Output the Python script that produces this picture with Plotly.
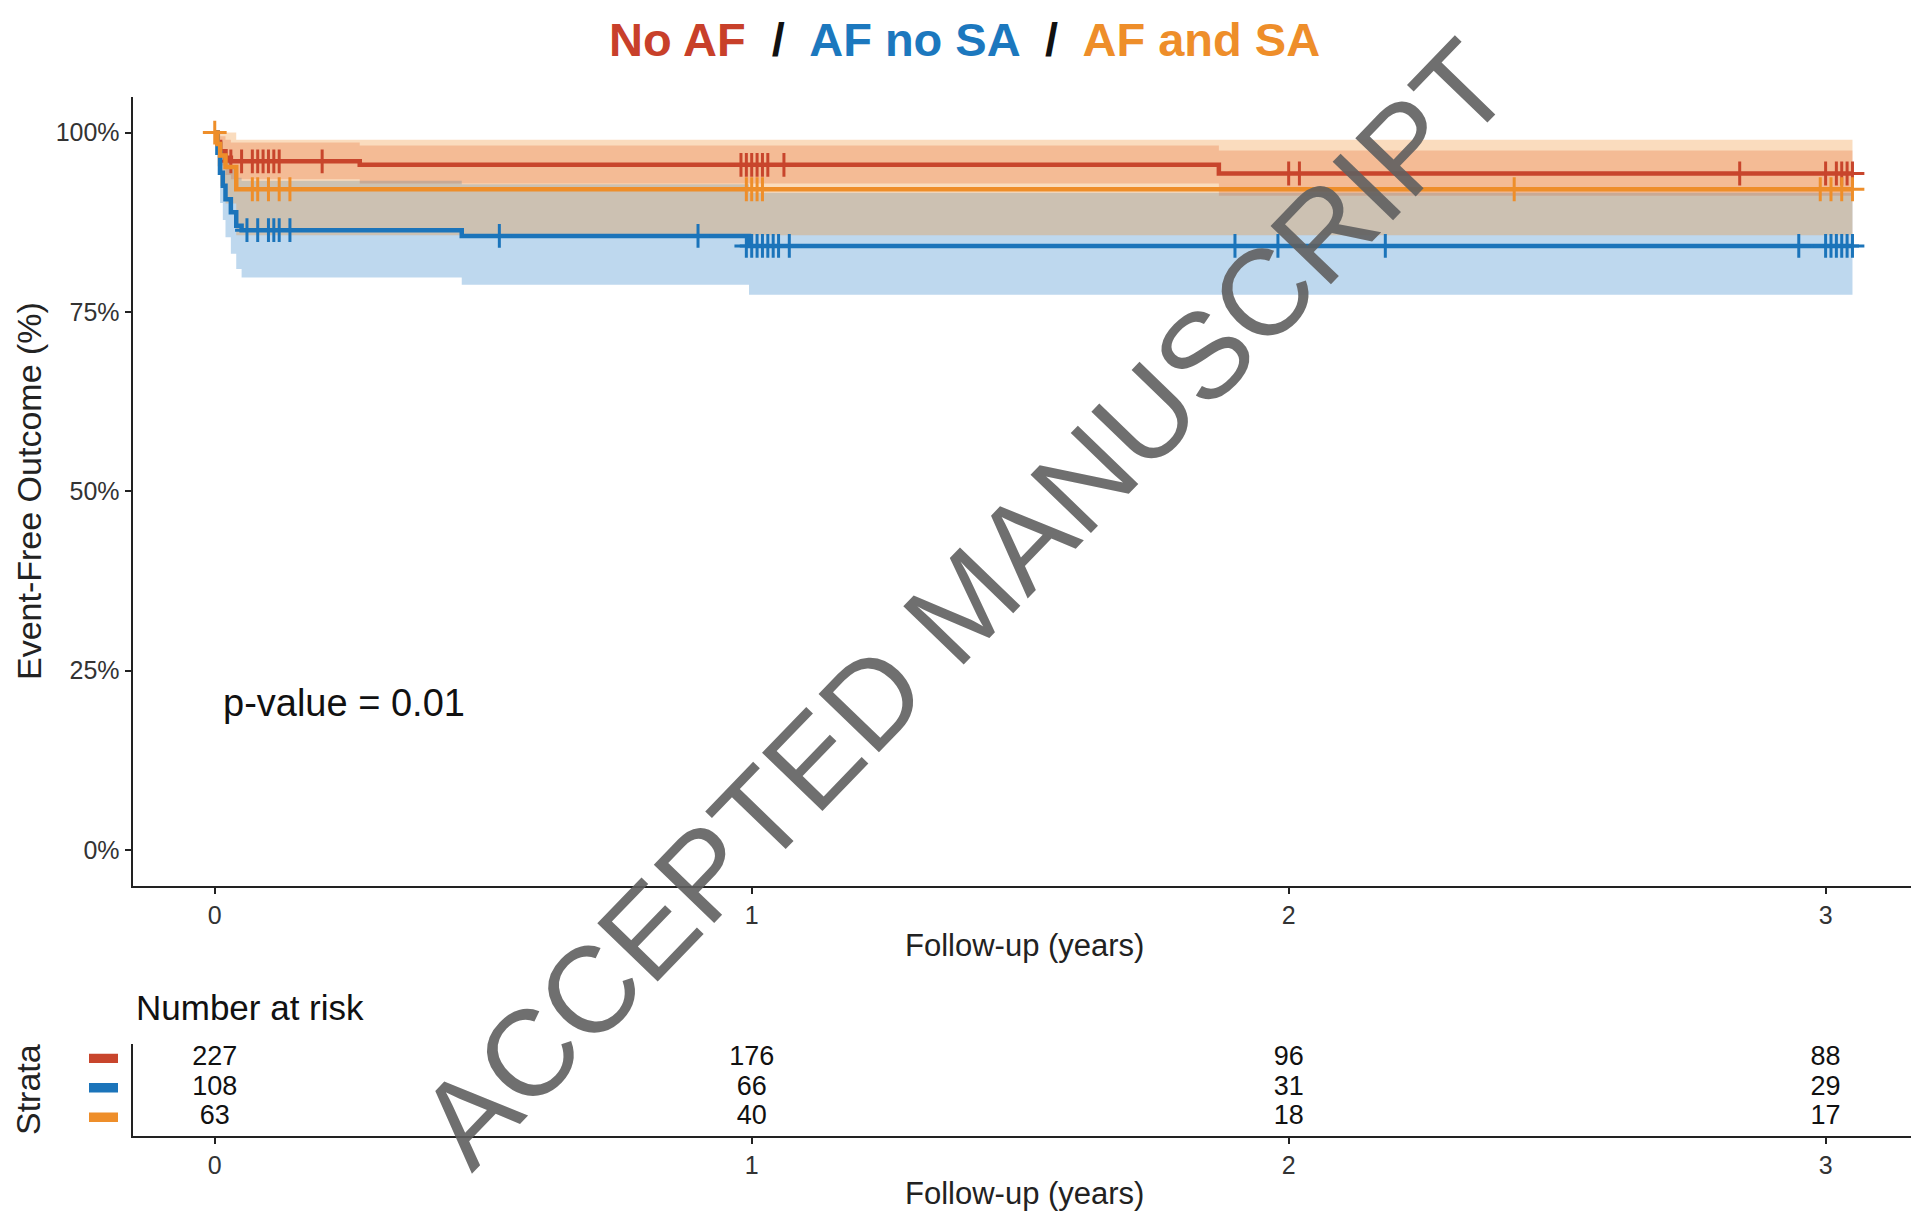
import plotly.graph_objects as go

# ---------------- data ----------------
groups = ["No AF", "AF no SA", "AF and SA"]
line_colors = ["#C8452C", "#1B74BA", "#EE8E2A"]
fill_colors = ["rgba(230,100,60,0.30)", "rgba(40,125,200,0.30)", "rgba(240,140,40,0.30)"]

# Kaplan-Meier step data (years, survival %)
noaf_t = [0, 0.005, 0.01, 0.02, 0.03, 0.27, 1.87, 3.05]
noaf_s = [100, 98.7, 97.4, 96.5, 96.0, 95.5, 94.3, 94.3]
noaf_lo = [100, 97.2, 95.4, 94.1, 93.5, 92.9, 91.2, 91.2]
noaf_hi = [100, 100, 99.5, 99.0, 98.6, 98.2, 97.5, 97.5]

afnosa_t = [0, 0.005, 0.01, 0.015, 0.02, 0.03, 0.04, 0.05, 0.46, 0.995, 3.05]
afnosa_s = [100, 97.2, 94.4, 92.6, 90.7, 88.9, 87.0, 86.4, 85.6, 84.2, 84.2]
afnosa_lo = [100, 94.1, 90.2, 87.8, 85.4, 83.1, 81.0, 79.8, 78.8, 77.4, 77.4]
afnosa_hi = [100, 100, 98.8, 97.7, 96.4, 95.1, 93.7, 93.3, 92.8, 91.6, 91.6]

afsa_t = [0, 0.005, 0.01, 0.02, 0.04, 3.05]
afsa_s = [100, 98.4, 96.8, 95.2, 92.1, 92.1]
afsa_lo = [100, 95.3, 92.6, 90.1, 85.7, 85.7]
afsa_hi = [100, 100, 100, 100, 99.0, 99.0]

# censoring marks (years, survival %)
noaf_cens_t = [0.03, 0.05, 0.07, 0.08, 0.09, 0.10, 0.11, 0.12, 0.20,
               0.98, 0.99, 1.00, 1.01, 1.02, 1.03, 1.06,
               2.00, 2.02, 2.84, 3.00, 3.02, 3.03, 3.04, 3.05]
noaf_cens_s = [96.0] * 9 + [95.5] * 7 + [94.3] * 8

afnosa_cens_t = [0.06, 0.08, 0.10, 0.11, 0.12, 0.14, 0.53, 0.90,
                 0.99, 1.00, 1.01, 1.02, 1.03, 1.04, 1.05, 1.07,
                 1.90, 1.98, 2.18, 2.95, 3.00, 3.01, 3.02, 3.03, 3.04, 3.05]
afnosa_cens_s = [86.4] * 6 + [85.6] * 2 + [84.2] * 18

afsa_cens_t = [0.0, 0.07, 0.08, 0.10, 0.12, 0.14,
               0.99, 1.00, 1.01, 1.02, 2.42, 2.99, 3.01, 3.03, 3.05]
afsa_cens_s = [100] + [92.1] * 14

# number at risk
risk_times = [0, 1, 2, 3]
risk_noaf = [227, 176, 96, 88]
risk_afnosa = [108, 66, 31, 29]
risk_afsa = [63, 40, 18, 17]

y_ticks = [0, 25, 50, 75, 100]
y_ticklabels = ["0%", "25%", "50%", "75%", "100%"]
x_ticks = [0, 1, 2, 3]

# ---------------- figure ----------------
W, H = 1925, 1225
OFF = 8  # page body margin
FONT = "Liberation Sans, Arial, sans-serif"

def px_x(p):
    return (p - OFF) / W

def px_y(p):
    return 1 - (p - OFF) / H

fig = go.Figure()

series = [
    (noaf_t, noaf_s, noaf_lo, noaf_hi, noaf_cens_t, noaf_cens_s),
    (afnosa_t, afnosa_s, afnosa_lo, afnosa_hi, afnosa_cens_t, afnosa_cens_s),
    (afsa_t, afsa_s, afsa_lo, afsa_hi, afsa_cens_t, afsa_cens_s),
]

# confidence bands
for i, (t, s, lo, hi, ct, cs) in enumerate(series):
    fig.add_trace(go.Scatter(x=t, y=hi, mode="lines", line=dict(width=0, shape="hv"),
                             showlegend=False, hoverinfo="skip", xaxis="x", yaxis="y"))
    fig.add_trace(go.Scatter(x=t, y=lo, mode="lines", line=dict(width=0, shape="hv"),
                             fill="tonexty", fillcolor=fill_colors[i],
                             showlegend=False, hoverinfo="skip", xaxis="x", yaxis="y"))

# survival curves and censor marks
for i, (t, s, lo, hi, ct, cs) in enumerate(series):
    fig.add_trace(go.Scatter(x=t, y=s, mode="lines", name=groups[i],
                             line=dict(color=line_colors[i], width=4.5, shape="hv"),
                             showlegend=False, xaxis="x", yaxis="y"))
    fig.add_trace(go.Scatter(x=ct, y=cs, mode="markers",
                             marker=dict(symbol="cross-thin", size=17,
                                         line=dict(color=line_colors[i], width=3)),
                             showlegend=False, xaxis="x", yaxis="y"))

# risk table
risk_rows = [(risk_noaf, 3), (risk_afnosa, 2), (risk_afsa, 1)]
for vals, row in risk_rows:
    fig.add_trace(go.Scatter(x=risk_times, y=[row] * len(risk_times), mode="text",
                             text=[str(v) for v in vals],
                             textfont=dict(family=FONT, size=27, color="#111111"),
                             textposition="middle center",
                             showlegend=False, hoverinfo="skip", xaxis="x2", yaxis="y2"))

xdom = [px_x(132.6), min(1.0, px_x(1911))]
xrange = [-0.153, 3.159]

axis_common = dict(showline=True, linecolor="#222222", linewidth=2, ticks="outside",
                   ticklen=6, tickwidth=1.5, tickcolor="#222222", showgrid=False,
                   zeroline=False, tickfont=dict(family=FONT, size=25, color="#333333"))

fig.update_layout(
    width=W, height=H,
    margin=dict(l=0, r=0, t=0, b=0),
    paper_bgcolor="white", plot_bgcolor="white",
    xaxis=dict(domain=xdom, range=xrange, tickvals=x_ticks, anchor="y", **axis_common),
    yaxis=dict(domain=[px_y(886), px_y(96.7)], range=[-5, 105], tickvals=y_ticks,
               ticktext=y_ticklabels, anchor="x", **axis_common),
    xaxis2=dict(domain=xdom, range=xrange, tickvals=x_ticks, anchor="y2", **axis_common),
    yaxis2=dict(domain=[px_y(1135.6), px_y(1043.6)], range=[0.38, 3.5], anchor="x2",
                showline=True, linecolor="#222222", linewidth=2, showticklabels=False,
                ticks="", showgrid=False, zeroline=False),
)

# strata colour keys in the risk table
for (vals, row), col in zip(risk_rows, line_colors):
    fig.add_shape(type="rect", xref="paper", yref="y2",
                  x0=px_x(89), x1=px_x(118), y0=row - 0.16, y1=row + 0.16,
                  fillcolor=col, line=dict(width=0))

title_html = ("<b><span style='color:#C8402A'>No AF</span>  <span style='color:#111'>/</span>  "
              "<span style='color:#1C78BE'>AF no SA</span>  <span style='color:#111'>/</span>  "
              "<span style='color:#EE8E2A'>AF and SA</span></b>")

annotations = [
    dict(text=title_html, x=px_x(964), y=px_y(40), xref="paper", yref="paper",
         showarrow=False, font=dict(family=FONT, size=47), xanchor="center", yanchor="middle"),
    dict(text="Event-Free Outcome (%)", x=px_x(29), y=px_y(491), xref="paper", yref="paper",
         showarrow=False, textangle=-90, font=dict(family=FONT, size=34, color="#222"),
         xanchor="center", yanchor="middle"),
    dict(text="Follow-up (years)", x=px_x(1024), y=px_y(945), xref="paper", yref="paper",
         showarrow=False, font=dict(family=FONT, size=31, color="#222"),
         xanchor="center", yanchor="middle"),
    dict(text="p-value = 0.01", x=px_x(221), y=px_y(703), xref="paper", yref="paper",
         showarrow=False, font=dict(family=FONT, size=38, color="#111"),
         xanchor="left", yanchor="middle"),
    dict(text="Number at risk", x=px_x(134), y=px_y(1007), xref="paper", yref="paper",
         showarrow=False, font=dict(family=FONT, size=35, color="#111"),
         xanchor="left", yanchor="middle"),
    dict(text="Strata", x=px_x(28), y=px_y(1090), xref="paper", yref="paper",
         showarrow=False, textangle=-90, font=dict(family=FONT, size=34, color="#222"),
         xanchor="center", yanchor="middle"),
    dict(text="Follow-up (years)", x=px_x(1024), y=px_y(1193), xref="paper", yref="paper",
         showarrow=False, font=dict(family=FONT, size=31, color="#222"),
         xanchor="center", yanchor="middle"),
    dict(text="ACCEPTED MANUSCRIPT", x=px_x(964), y=px_y(604), xref="paper", yref="paper",
         showarrow=False, textangle=-46, font=dict(family=FONT, size=122, color="rgba(95,95,95,0.9)"),
         xanchor="center", yanchor="middle"),
]
fig.update_layout(annotations=annotations)

fig.write_html("out.html")
